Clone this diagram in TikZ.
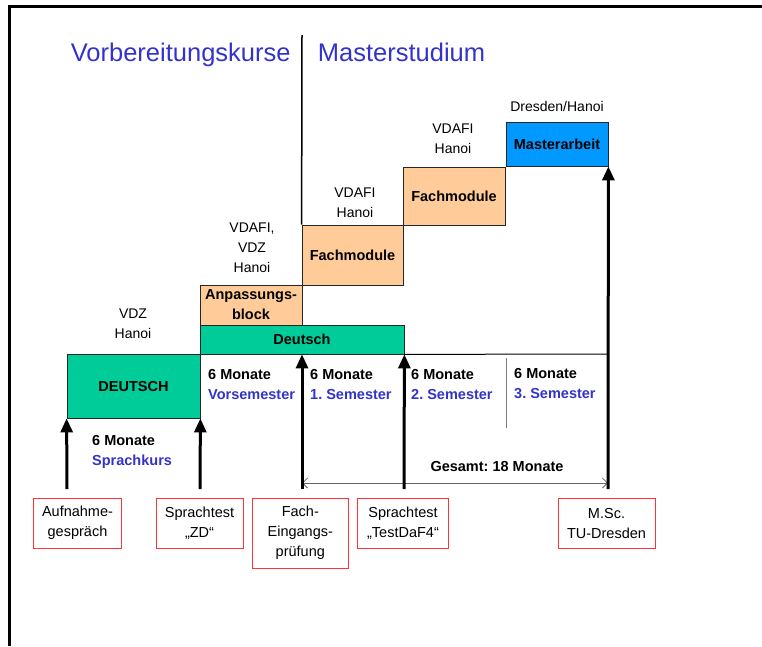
\documentclass[tikz,border=0pt]{standalone}
\usepackage{fontspec}
\setmainfont{Liberation Sans}
\usetikzlibrary{arrows.meta}
\definecolor{tealgreen}{RGB}{0,204,153}
\definecolor{peach}{RGB}{255,204,153}
\definecolor{skyblue}{RGB}{0,153,255}
\definecolor{headblue}{RGB}{51,51,204}
\frenchspacing
\begin{document}
\begin{tikzpicture}[x=1pt,y=-1pt,
  stage/.style={draw=black!85,line width=0.8pt,inner sep=0pt,align=center,font=\fontsize{14.5}{20}\selectfont\bfseries},
  exam/.style={draw=red!80,line width=1pt,inner sep=0pt,anchor=north,minimum height=50pt,align=center,font=\fontsize{14.5}{20}\selectfont},
  site/.style={align=center,inner sep=0pt,font=\fontsize{14}{20}\selectfont},
  period/.style={anchor=north west,inner sep=0pt,align=left,font=\fontsize{14.5}{20}\selectfont\bfseries},
  milestone/.style={line width=3pt,-{Triangle[width=12pt,length=14pt]}},
  heading/.style={anchor=base,text=headblue,font=\fontsize{25.5}{30}\selectfont}]
\useasboundingbox (0,0) rectangle (762,646);
\draw[line width=3pt] (9.5,646) -- (9.5,6) -- (762,6);
% titles
\node[heading] (prep) at (180.7,61) {Vorbereitungskurse};
\node[heading] (study) at (401.5,61) {Masterstudium};
% stages
\node[stage,fill=tealgreen,minimum width=133pt,minimum height=64pt] (deutschA) at (133.5,386) {DEUTSCH};
\node[stage,fill=tealgreen,minimum width=204pt,minimum height=29pt] (deutschB) at (302,339.5) {Deutsch};
\node[stage,fill=peach,minimum width=102pt,minimum height=40pt] (anpass) at (251,305) {Anpassungs-\\block};
\node[stage,fill=peach,minimum width=101pt,minimum height=60pt] (fachA) at (352.5,255) {Fachmodule};
\node[stage,fill=peach,minimum width=102pt,minimum height=58pt] (fachB) at (454,196.5) {Fachmodule};
\node[stage,fill=skyblue,minimum width=102pt,minimum height=44pt] (master) at (557,144) {Masterarbeit};
% places
\node[site] (vdz) at (133,324) {VDZ\\Hanoi};
\node[site] (vdafiA) at (252,248) {VDAFI,\\VDZ\\Hanoi};
\node[site] (vdafiB) at (355,203) {VDAFI\\Hanoi};
\node[site] (vdafiC) at (453,139) {VDAFI\\Hanoi};
\node[site] (dresden) at (557,106) {Dresden/Hanoi};
% periods
\node[period] (kurs) at (92,435) {6 Monate\\\textcolor{headblue}{Sprachkurs}};
\node[period] (vorsem) at (208,369) {6 Monate\\\textcolor{headblue}{Vorsemester}};
\node[period] (semA) at (310,369) {6 Monate\\\textcolor{headblue}{1. Semester}};
\node[period] (semB) at (411,369) {6 Monate\\\textcolor{headblue}{2. Semester}};
\node[period] (semC) at (514,368) {6 Monate\\\textcolor{headblue}{3. Semester}};
\node[period,anchor=center] (total) at (497,466) {Gesamt: 18 Monate};
% exams
\node[exam,minimum width=88pt] (aufnahme) at (77.5,497.5) {Aufnahme-\\gespräch};
\node[exam,minimum width=87pt] (zd) at (199.5,497.5) {Sprachtest\\„ZD“};
\node[exam,minimum width=96pt,minimum height=70pt] (eingang) at (300.3,497.5) {Fach-\\Eingangs-\\prüfung};
\node[exam,minimum width=91pt] (testdaf) at (403,497.5) {Sprachtest\\„TestDaF4“};
\node[exam,minimum width=97pt] (msc) at (606.5,497.5) {M.Sc.\\TU-Dresden};
% lines
\coordinate (divtop) at (302,35);
\coordinate (lineend) at (608,354);
\draw[line width=1.5pt] (divtop) -- (fachA.north west);
\draw[line width=1pt] (deutschB.south east) -- (lineend);
\draw[gray,line width=0.8pt] (506,358) -- (506,428);
\coordinate (g1) at (302,483);
\coordinate (g2) at (608,483);
\draw[black!60,line width=0.8pt,{Straight Barb[length=5pt,width=10pt]}-{Straight Barb[length=5pt,width=10pt]}] (g1) -- (g2);
% arrows
\coordinate (f1) at (67,489);
\coordinate (f2) at (200,489);
\coordinate (f3) at (302,489);
\coordinate (f4) at (404,489);
\coordinate (f5) at (608,489);
\draw[milestone] (f1) -- (deutschA.south west);
\draw[milestone] (f2) -- (deutschA.south east);
\draw[milestone] (f3) -- (deutschB.south);
\draw[milestone] (f4) -- (deutschB.south east);
\draw[milestone] (f5) -- (master.south east);
\end{tikzpicture}
\end{document}
